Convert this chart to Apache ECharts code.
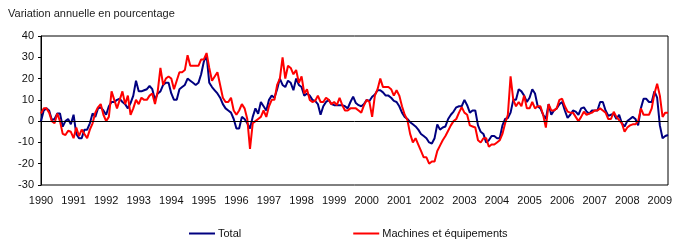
<!DOCTYPE html>
<html>
<head>
<meta charset="utf-8">
<script src="https://cdn.jsdelivr.net/npm/echarts@6/dist/echarts.min.js"></script>
<style>
  html, body { margin: 0; padding: 0; background: #fff; }
  #chart { width: 677px; height: 247px; }
</style>
</head>
<body>
<div id="chart"></div>
<script>
// variation annuelle (%) - valeurs mensuelles, janv. 1990 a avr. 2009
var years = [1990, 1991, 1992, 1993, 1994, 1995, 1996, 1997, 1998, 1999,
             2000, 2001, 2002, 2003, 2004, 2005, 2006, 2007, 2008, 2009];

var total = [
  0, 5, 6, 5, 0.5, 1, 3.6, 3.6, -2.6, 0, 1, -1.5,          // 1990
  3, -6, -8, -8, -4, -4, -1, 3.6, 2, 6, 6.5, 5,            // 1991
  3, 7, 9, 9, 10, 10.5, 9, 8, 6, 8.5, 12, 19,              // 1992
  14, 14, 14.5, 15, 16.5, 15, 10, 13, 14, 17, 18, 18,      // 1993
  13, 10, 10, 15, 16, 17, 20, 19, 18, 17, 18, 22,          // 1994
  28, 31, 18, 16, 14.5, 13, 11, 8, 6, 5, 4, 1,             // 1995
  -3.5, -3.5, 2, 1, -1, -3.5, 2, 6, 3.5, 9, 7, 5,          // 1996
  10, 12, 11, 15, 20, 17, 16, 19, 18, 14.5, 20, 17,        // 1997
  16, 12, 13, 12, 10, 9.5, 8, 3, 7, 9, 10, 8,              // 1998
  7.5, 7.5, 7.5, 7.5, 7, 6, 9, 11.5, 8.5, 7.5, 7, 8,       // 1999
  10, 9.5, 11.5, 12.5, 14.5, 14.5, 13.5, 12, 12, 11, 9.5, 9, // 2000
  7, 4, 2, 1, -0.5, -1.5, -2.5, -4, -6, -7, -8, -10,       // 2001
  -10.5, -8, -1.5, -4, -3, -2.5, 1, 3, 4.5, 6.5, 7, 7,     // 2002
  10, 7.5, 4, 5, 5, -2, -5, -6, -10, -9, -7, -7,           // 2003
  -8, -8, -2, 1, 1.5, 4, 10, 10, 15, 14, 12, 9,            // 2004
  11, 15, 13, 7, 6, 3, 1, 8, 3, 5, 6, 8,                   // 2005
  9, 5, 1.5, 3, 5, 4.5, 3, 6, 6.5, 4.5, 3.5, 5,            // 2006
  5, 5, 9, 9, 5, 2.5, 3, 3.5, 1, 3, -1, -2.5,              // 2007
  0, 1, 2, 1, -2, 6, 10.5, 10.5, 9, 9, 14, 11,             // 2008
  -2, -8, -7, -6.5                                         // 2009
];

var machines = [
  3.6, 6, 6, 4, 0, -1, 3.6, 0, -6, -6.5, -4.5, -5,         // 1990
  -8, -3, -7, -4, -6, -8, -4, -1, 4, 6.5, 8, 3,            // 1991
  0, 2, 14, 10, 6, 10, 14, 8, 12, 3, 6, 10,                // 1992
  8, 11, 10, 10, 12, 13, 8, 14, 25, 17, 20, 21,            // 1993
  20, 15, 19, 23, 23, 24, 31, 26, 26, 26, 26, 29,          // 1994
  29, 32, 25, 19, 21, 23, 17, 11, 9, 9, 11, 5,             // 1995
  3, 5, 8, 6, 1, -13, -1, 0, 1, 2, 5, 2,                   // 1996
  7, 10, 10, 17, 20, 30, 20, 26, 25, 22, 24, 18,           // 1997
  21, 13, 15, 10, 9, 9.5, 12, 9, 9, 11, 10, 8,             // 1998
  9, 7.5, 11, 7.5, 5, 5, 6, 6, 6, 5, 4, 7.5,               // 1999
  10, 9, 2, 12, 15, 20, 16, 16, 16, 15, 12, 14.5,          // 2000
  12, 7, 3, 0.5, -6, -10, -8, -11, -14, -17, -17, -20,     // 2001
  -19, -19, -14, -11.5, -9, -7, -4.5, -2, 0, 1, 4, 6.5,    // 2002
  4, 3, -2, -2.5, -3, -9, -10, -8, -8, -12, -11, -11,      // 2003
  -10, -9, -6, -1, 3, 21, 10, 7, 9, 7, 12, 6,              // 2004
  6, 9, 6, 7, 7, 3, -3, 8, 5, 5, 6, 10,                    // 2005
  10.5, 7, 4.5, 4, 4, 2, 0, 2, 4.4, 3, 3.5, 4,             // 2006
  5, 5, 6, 5, 4, 1, 1, 4.4, 2, 0.5, -1, -5,                // 2007
  -3, -2, -1.5, -1.5, 0, 6, 3, 3, 3, 6, 13, 17.6,          // 2008
  12, 2, 4, 4                                              // 2009
];

var seriesNames = ["Total", "Machines et équipements"];
var yTicks = [-30, -20, -10, 0, 10, 20, 30, 40];

// categories mensuelles
var months = [];
for (var i = 0; i < total.length; i++) {
    var y = years[0] + Math.floor(i / 12);
    var m = (i % 12) + 1;
    months.push(y + "-" + (m < 10 ? "0" + m : m));
}

var font = "Liberation Sans, Arial, sans-serif";
var chart = echarts.init(document.getElementById("chart"));

chart.setOption({
    animation: false,
    textStyle: { fontFamily: font },
    title: {
        text: "Variation annuelle en pourcentage",
        left: 3,
        top: 3,
        textStyle: { fontSize: 11, fontWeight: "normal", color: "#222", fontFamily: font }
    },
    grid: {
        left: 41, right: 9, top: 36, bottom: 62,
        show: true, borderColor: "#000", borderWidth: 1
    },
    legend: {
        left: 184,
        top: 223,
        itemGap: 112,
        itemWidth: 26,
        itemHeight: 2,
        icon: "rect",
        textStyle: { fontSize: 11, color: "#111", fontFamily: font, padding: [0, 0, 0, -2] },
        data: seriesNames
    },
    xAxis: {
        type: "category",
        boundaryGap: false,
        data: months,
        axisLine: { show: false, onZero: false },
        axisTick: { show: false },
        splitLine: { show: false },
        axisLabel: {
            interval: function (idx) { return idx % 12 === 0; },
            formatter: function (v) { return v.slice(0, 4); },
            fontSize: 11,
            color: "#111",
            margin: 10
        }
    },
    yAxis: {
        type: "value",
        min: yTicks[0],
        max: yTicks[yTicks.length - 1],
        interval: 10,
        axisLine: { show: true, lineStyle: { color: "#000" } },
        axisTick: { show: true, length: 3, lineStyle: { color: "#000" } },
        splitLine: { show: false },
        axisLabel: { fontSize: 11, color: "#111", margin: 7 }
    },
    series: [
        {
            name: seriesNames[0],
            type: "line",
            data: total,
            showSymbol: false,
            color: "#000080",
            lineStyle: { width: 2, color: "#000080" },
            markLine: {
                silent: true,
                symbol: "none",
                label: { show: false },
                lineStyle: { color: "#000", width: 1, type: "solid" },
                data: [{ yAxis: 0 }]
            }
        },
        {
            name: seriesNames[1],
            type: "line",
            data: machines,
            showSymbol: false,
            color: "#ff0000",
            lineStyle: { width: 2, color: "#ff0000" }
        }
    ]
});
</script>
</body>
</html>
